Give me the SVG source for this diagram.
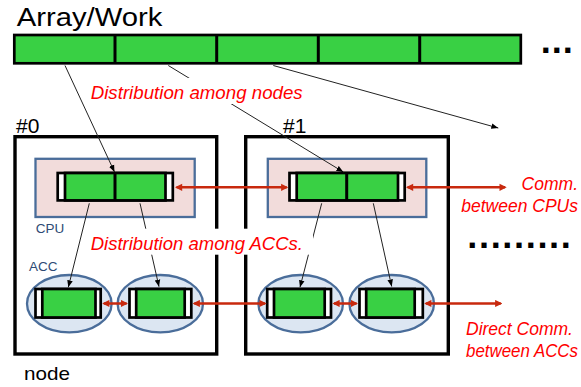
<svg xmlns="http://www.w3.org/2000/svg" width="581" height="387" viewBox="0 0 581 387">
<defs>
<style>
.t{font-family:"Liberation Sans",Arial,sans-serif}
.red{fill:#ff0000;font-style:italic}
.lab{fill:#2e4a74;font-size:13.5px}
.box{fill:none;stroke:#000;stroke-width:3.4}
.cpu{fill:#f2dcdb;stroke:#4a6d9a;stroke-width:2.3}
.acc{fill:#dce6f2;stroke:#4a6d9a;stroke-width:2.3}
.cap{fill:#fff;stroke:#000;stroke-width:2.7}
.grn{fill:#39d044;stroke:#000;stroke-width:2.7}
.div{stroke:#000;stroke-width:3}
.ln{stroke:#222;stroke-width:1;fill:none;marker-end:url(#ba)}
.rl{stroke:#c8290e;stroke-width:2.5;fill:none;marker-start:url(#ra);marker-end:url(#ra)}
.dots{font-family:"DejaVu Sans",sans-serif;font-weight:bold;font-size:29px;fill:#000}
</style>
<marker id="ba" viewBox="0 0 10 10" refX="10" refY="5" markerWidth="7" markerHeight="7" markerUnits="userSpaceOnUse" orient="auto"><path d="M0,1 L10,5 L0,9 z" fill="#000"/></marker>
<marker id="ra" viewBox="0 0 10 10" refX="8" refY="5" markerWidth="8" markerHeight="8" markerUnits="userSpaceOnUse" orient="auto-start-reverse"><path d="M1,0.5 L10,5 L1,9.5 z" fill="#c8290e"/></marker>
</defs>
<rect width="581" height="387" fill="#fff"/>

<g id="array">
<text class="t" x="16.7" y="26" font-size="26" textLength="145.6" lengthAdjust="spacingAndGlyphs">Array/Work</text>
<rect class="grn" x="14.3" y="35" width="506.5" height="28.3" stroke-width="3.3"/>
<line class="div" x1="115" y1="35" x2="115" y2="63.3"/>
<line class="div" x1="216.7" y1="35" x2="216.7" y2="63.3"/>
<line class="div" x1="318.3" y1="35" x2="318.3" y2="63.3"/>
<line class="div" x1="419.7" y1="35" x2="419.7" y2="63.3"/>
</g>

<g id="node0">
<rect class="box" x="15" y="136.7" width="201.7" height="217.3"/>
<text class="t" x="16" y="133.3" font-size="21">#0</text>
<g id="cpu0">
<rect class="cpu" x="35.5" y="158.8" width="159.2" height="58.2"/>
<rect class="cap" x="57.7" y="173" width="115.1" height="27.4"/>
<rect class="grn" x="65" y="173" width="100.5" height="27.4"/>
<line class="div" x1="115" y1="173" x2="115" y2="200.4"/>
<text class="t lab" x="35.7" y="232.7">CPU</text>
</g>
<g id="acc0a">
<ellipse class="acc" cx="69.3" cy="303.7" rx="42.3" ry="28.7"/>
<rect class="cap" x="35.5" y="289" width="65.2" height="28.5"/>
<rect class="grn" x="42.3" y="289" width="53.2" height="28.5"/>
</g>
<g id="acc0b">
<ellipse class="acc" cx="160.3" cy="303.7" rx="42.7" ry="28.7"/>
<rect class="cap" x="129.5" y="289" width="61.8" height="28.5"/>
<rect class="grn" x="136.2" y="289" width="48.5" height="28.5"/>
</g>
<text class="t lab" x="29" y="270.7" font-size="13">ACC</text>
</g>

<g id="node1">
<rect class="box" x="245.7" y="136.7" width="202.6" height="217.3"/>
<text class="t" x="283" y="133.3" font-size="21">#1</text>
<g id="cpu1">
<rect class="cpu" x="267.8" y="158.8" width="158.5" height="58.2"/>
<rect class="cap" x="289.5" y="173" width="115.2" height="27.4"/>
<rect class="grn" x="296.7" y="173" width="101.3" height="27.4"/>
<line class="div" x1="346.7" y1="173" x2="346.7" y2="200.4"/>
</g>
<g id="acc1a">
<ellipse class="acc" cx="300.7" cy="303.7" rx="42.3" ry="28.7"/>
<rect class="cap" x="267.2" y="289" width="63.8" height="28.5"/>
<rect class="grn" x="274" y="289" width="50.7" height="28.5"/>
</g>
<g id="acc1b">
<ellipse class="acc" cx="391.7" cy="303.7" rx="42.3" ry="28.7"/>
<rect class="cap" x="359.5" y="289" width="63.3" height="28.5"/>
<rect class="grn" x="366.2" y="289" width="48.5" height="28.5"/>
</g>
</g>

<text id="nodelabel" class="t" x="24" y="380" font-size="19" textLength="46" lengthAdjust="spacingAndGlyphs">node</text>

<g id="connectors">
<path class="ln" d="M65,65.5 L114.5,172"/>
<path class="ln" d="M168.3,65.5 L343.3,172"/>
<path class="ln" d="M273.3,65.5 L498.3,128"/>
<path class="ln" d="M89.3,203.3 L68.3,287.3"/>
<path class="ln" d="M140,203.3 L159,286.7"/>
<path class="ln" d="M321.7,203.3 L300,287.3"/>
<path class="ln" d="M373.3,203.3 L391.7,286.5"/>
<path class="rl" d="M176.6,187.3 L286.7,187.3"/>
<path class="rl" d="M407.6,187.3 L505.1,187.3"/>
<path class="rl" d="M103.8,303.5 L126.6,303.5"/>
<path class="rl" d="M194.3,303.5 L265.1,303.5"/>
<path class="rl" d="M334,303.5 L356.6,303.5"/>
<path class="rl" d="M425.8,303.5 L500.7,303.5"/>
</g>

<g id="labels">
<rect x="88" y="78" width="218" height="26" fill="#fff"/>
<text class="t red" x="90.7" y="99.3" font-size="18.5" textLength="212" lengthAdjust="spacingAndGlyphs">Distribution among nodes</text>
<rect x="88" y="228.7" width="225" height="26" fill="#fff"/>
<text class="t red" x="90.7" y="250" font-size="18.5" textLength="212.3" lengthAdjust="spacingAndGlyphs">Distribution among ACCs.</text>
<text class="t red" x="578" y="190" font-size="17.5" text-anchor="end">Comm.</text>
<text class="t red" x="578" y="211.7" font-size="17.5" text-anchor="end">between CPUs</text>
<text class="t red" x="466" y="335" font-size="17.5">Direct Comm.</text>
<text class="t red" x="466" y="357.3" font-size="17.5" textLength="112" lengthAdjust="spacingAndGlyphs">between ACCs</text>
<text class="dots" x="540.2" y="52.7">...</text>
<text class="dots" x="466.8" y="248.3" letter-spacing="0.67">.........</text>
</g>
</svg>
